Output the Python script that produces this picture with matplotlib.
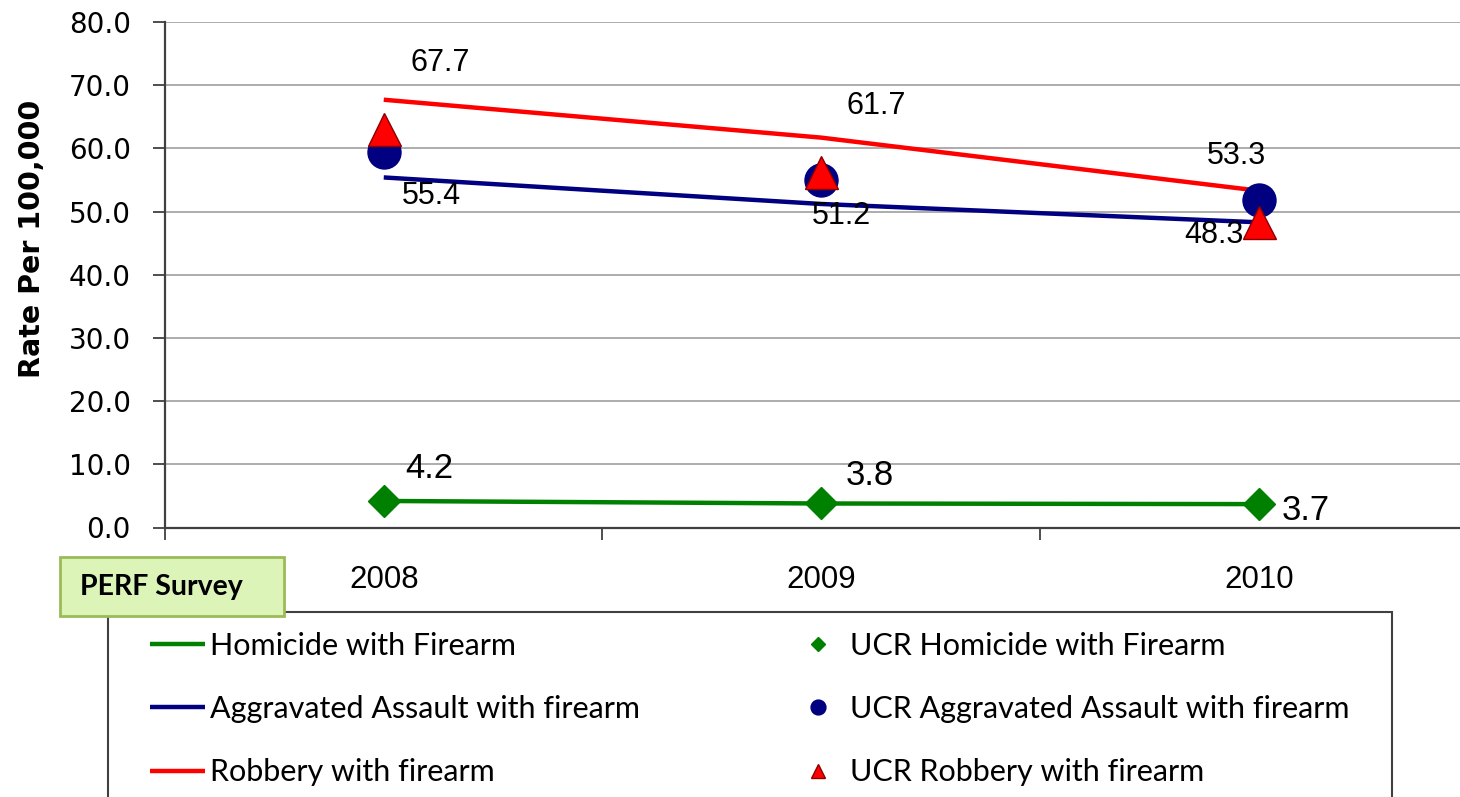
import matplotlib
matplotlib.use("Agg")
import matplotlib.pyplot as plt
from matplotlib.patches import Rectangle
from matplotlib.ticker import FixedLocator

# ---------------- data ----------------
years = ["2008", "2009", "2010"]
perf_homicide = [4.2, 3.8, 3.7]
perf_assault = [55.4, 51.2, 48.3]
perf_robbery = [67.7, 61.7, 53.3]
ucr_homicide = [4.2, 3.8, 3.7]
ucr_assault = [59.4, 55.0, 51.9]
ucr_robbery = [63.0, 56.2, 48.3]
y_ticks = [0, 10, 20, 30, 40, 50, 60, 70, 80]

series_names = ["Homicide with Firearm", "Aggravated Assault with firearm", "Robbery with firearm"]
ucr_names = ["UCR Homicide with Firearm", "UCR Aggravated Assault with firearm", "UCR Robbery with firearm"]

# ---------------- style ----------------
GREEN = "#008000"
NAVY = "#000080"
RED = "#FF0000"
W, H, DPI = 1460, 797, 100
PX = 72.0 / DPI  # points per pixel

fig = plt.figure(figsize=(W / DPI, H / DPI), dpi=DPI)
ax_left, ax_right, ax_top, ax_bottom = 165, 1477.5, 22, 527.5
ax = fig.add_axes([ax_left / W, 1 - ax_bottom / H, (ax_right - ax_left) / W, (ax_bottom - ax_top) / H])

x = list(range(len(years)))
LW = 3.2

ax.plot(x, perf_homicide, color=GREEN, lw=LW, solid_capstyle="butt", zorder=3, label=series_names[0])
ax.plot(x, perf_assault, color=NAVY, lw=LW, solid_capstyle="butt", zorder=3, label=series_names[1])
ax.plot(x, perf_robbery, color=RED, lw=LW, solid_capstyle="butt", zorder=3, label=series_names[2])

ax.plot(x, ucr_homicide, ls="none", marker="D", ms=23 * PX, color=GREEN, mec=GREEN, zorder=5, label=ucr_names[0])
ax.plot(x, ucr_assault, ls="none", marker="o", ms=33 * PX, color=NAVY, mec=NAVY, zorder=5, label=ucr_names[1])
ax.plot(x, ucr_robbery, ls="none", marker="^", ms=33 * PX, color=RED, mec="#8B0000", mew=1.0, zorder=6, label=ucr_names[2])

# data labels (offsets in pixels)
lab_font = ["Liberation Sans", "DejaVu Sans"]
off_rob = [(56, 40), (55, 35), (-22, 38)]
off_ass = [(48, -15), (20, -9), (-45, -9)]
off_hom = [(46, 36), (49, 31), (47, -3)]
for vals, offs, fs in [(perf_robbery, off_rob, 22), (perf_assault, off_ass, 22), (perf_homicide, off_hom, 25)]:
    for i, v in enumerate(vals):
        ax.annotate(f"{v:.1f}", xy=(i, v), xytext=(offs[i][0] * PX, offs[i][1] * PX),
                    textcoords="offset points", ha="center", va="center_baseline",
                    fontsize=fs, family=lab_font, color="black", zorder=4)

# axes
ax.set_xlim(-0.5, 2.5)
ax.set_ylim(0, 80)
ax.yaxis.set_major_locator(FixedLocator(y_ticks))
ax.set_yticklabels([f"{t:.1f}" for t in y_ticks], fontsize=20, family="DejaVu Sans")
ax.xaxis.set_major_locator(FixedLocator([-0.5, 0.5, 1.5, 2.5]))
ax.xaxis.set_major_formatter(plt.NullFormatter())
ax.set_xticks(x, minor=True)
ax.set_xticklabels(years, minor=True, fontsize=22.5, family=lab_font)
ax.tick_params(axis="x", which="major", length=12 * PX, width=1.3, color="#404040", direction="out")
ax.tick_params(axis="x", which="minor", length=0, pad=27)
ax.tick_params(axis="y", which="major", length=12 * PX, width=1.3, color="#404040", pad=16, direction="out")

ax.grid(axis="y", color="#A6A6A6", lw=1.3, zorder=0)
ax.set_axisbelow(True)
for s in ["top", "right"]:
    ax.spines[s].set_visible(False)
for s in ["left", "bottom"]:
    ax.spines[s].set_color("#404040")
    ax.spines[s].set_linewidth(1.6)

fig.text(32 / W, 1 - 239 / H, "Rate Per 100,000", rotation=90, ha="center", va="center",
         fontsize=20.5, fontweight="bold", family="DejaVu Sans")

# legend frame
fig.patches.append(Rectangle((108 / W, -0.01), (1392 - 108) / W, 1.01 - 612 / H, transform=fig.transFigure,
                             facecolor="white", edgecolor="#404040", lw=1.5, zorder=1))

handles, labels = ax.get_legend_handles_labels()
leg = fig.legend(handles, labels, ncol=2, loc="upper left",
                 bbox_to_anchor=(150 / W, 1 - 632 / H, (1350 - 150) / W, 0),
                 mode="expand", frameon=False, borderpad=0, borderaxespad=0,
                 handlelength=1.8, handletextpad=0.15, labelspacing=1.15,
                 markerscale=0.45, prop={"family": "Lato", "size": 22})
leg.set_zorder(3)

# PERF Survey box
fig.patches.append(Rectangle((60 / W, 1 - 616 / H), (284 - 60) / W, (616 - 557) / H, transform=fig.transFigure,
                             facecolor="#DDF4B8", edgecolor="#9BBB59", lw=2, zorder=4))
fig.text(80 / W, 1 - 587 / H, "PERF Survey", ha="left", va="center", fontsize=20.5, fontweight="bold",
         family="Lato", zorder=5)

fig.savefig("out.png", dpi=DPI)
